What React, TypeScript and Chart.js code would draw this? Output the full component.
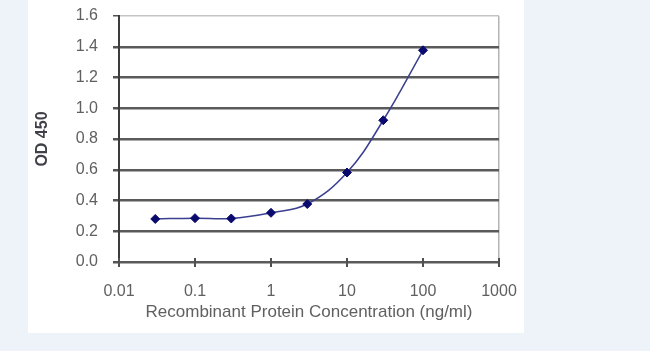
import React, { useEffect, useRef } from "react";
import { Chart, registerables } from "chart.js";

Chart.register(...registerables);

const concentrations = [0.03, 0.1, 0.3, 1, 3, 10, 30, 100];
const odValues = [0.28, 0.285, 0.283, 0.32, 0.377, 0.582, 0.922, 1.377];
const xTickValues = [0.01, 0.1, 1, 10, 100, 1000];
const xTickLabels = ["0.01", "0.1", "1", "10", "100", "1000"];
const yTickValues = [0, 0.2, 0.4, 0.6, 0.8, 1.0, 1.2, 1.4, 1.6];
const xTitle = "Recombinant Protein Concentration (ng/ml)";
const yTitle = "OD 450";

const FONT = "'Liberation Sans', Arial, sans-serif";

const crossTicks = {
  id: "crossTicks",
  afterDatasetsDraw(chart: any) {
    const x = chart.scales.x;
    const y = chart.scales.y;
    const ctx = chart.ctx;
    const y0 = y.getPixelForValue(0);
    ctx.save();
    ctx.strokeStyle = "#505050";
    ctx.lineWidth = 2;
    xTickValues.forEach((v) => {
      const px = Math.round(x.getPixelForValue(v));
      ctx.beginPath();
      ctx.moveTo(px, y0 - 4);
      ctx.lineTo(px, y0 + 5);
      ctx.stroke();
    });
    ctx.restore();
  },
};

export default function App() {
  const ref = useRef<HTMLCanvasElement>(null);

  useEffect(() => {
    const canvas = ref.current;
    if (!canvas) return;
    const chart = new Chart(canvas, {
      type: "line",
      data: {
        datasets: [
          {
            data: concentrations.map((c, i) => ({ x: c, y: odValues[i] })),
            borderColor: "#3a3f8f",
            borderWidth: 1.5,
            backgroundColor: "#0a0a6e",
            pointBackgroundColor: "#0a0a6e",
            pointBorderColor: "#0a0a6e",
            pointStyle: "rectRot",
            pointRadius: 4.5,
            pointBorderWidth: 1,
            tension: 0.4,
            fill: false,
          },
        ],
      },
      plugins: [crossTicks],
      options: {
        responsive: false,
        maintainAspectRatio: false,
        animation: false,
        layout: { padding: { left: 29, right: 151, top: 16, bottom: 24 } },
        plugins: {
          legend: { display: false },
          tooltip: { enabled: false },
        },
        scales: {
          x: {
            type: "logarithmic",
            min: 0.01,
            max: 1000,
            afterBuildTicks: (scale: any) => {
              scale.ticks = xTickValues.map((v) => ({ value: v }));
            },
            afterFit: (scale: any) => {
              scale.height = 65;
              scale.paddingLeft = 0;
              scale.paddingRight = 0;
            },
            ticks: {
              autoSkip: false,
              maxRotation: 0,
              padding: 15,
              color: "#606060",
              font: { family: FONT, size: 16 },
              callback: (value: any) => {
                const i = xTickValues.indexOf(Number(value));
                return i >= 0 ? xTickLabels[i] : "";
              },
            },
            grid: {
              drawOnChartArea: true,
              color: (ctx: any) =>
                ctx.tick && ctx.tick.value === 1000 ? "#b4b4b4" : "rgba(0,0,0,0)",
              lineWidth: 1.5,
              tickLength: 5,
              tickColor: "rgba(0,0,0,0)",
            },
            border: { display: false },
            title: {
              display: true,
              text: xTitle,
              color: "#606060",
              font: { family: FONT, size: 17 },
              padding: { top: 0, bottom: 4 },
            },
          },
          y: {
            type: "linear",
            min: 0,
            max: 1.6,
            afterBuildTicks: (scale: any) => {
              scale.ticks = yTickValues.map((v) => ({ value: v }));
            },
            afterFit: (scale: any) => {
              scale.width = 90;
              scale.paddingTop = 0;
              scale.paddingBottom = 0;
            },
            ticks: {
              padding: 15,
              color: "#606060",
              font: { family: FONT, size: 16 },
              callback: (value: any) => Number(value).toFixed(1),
            },
            grid: {
              color: (ctx: any) =>
                ctx.tick && Math.abs(ctx.tick.value - 1.6) < 1e-9 ? "#c4c4c4" : "#5a5a5a",
              lineWidth: (ctx: any) =>
                ctx.tick && Math.abs(ctx.tick.value - 1.6) < 1e-9 ? 1.5 : 2.5,
              tickLength: 6,
              tickColor: "#555555",
            },
            border: { display: true, color: "#3c3c3c", width: 2 },
            title: {
              display: true,
              text: yTitle,
              color: "#404048",
              font: { family: FONT, size: 16, weight: "bold" },
              padding: { top: 4, bottom: 4 },
            },
          },
        },
      },
    });
    return () => chart.destroy();
  }, []);

  return (
    <div
      style={{
        position: "fixed",
        left: 0,
        top: 0,
        width: 650,
        height: 351,
        background: "#edf3f8",
        overflow: "hidden",
      }}
    >
      <div
        style={{
          position: "absolute",
          left: 28,
          top: 0,
          width: 496,
          height: 333,
          background: "#ffffff",
        }}
      />
      <canvas
        ref={ref}
        width={650}
        height={351}
        style={{ position: "absolute", left: 0, top: 0, width: 650, height: 351 }}
      />
    </div>
  );
}
